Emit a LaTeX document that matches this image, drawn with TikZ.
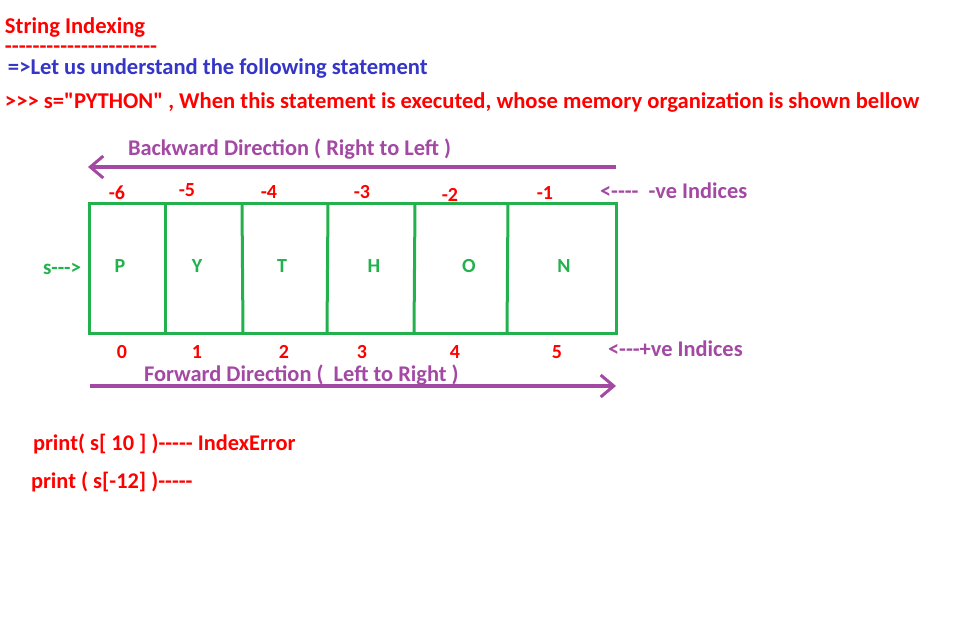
\documentclass[tikz,border=0pt]{standalone}
\usepackage{fontspec}
\setmainfont{Carlito}[Ligatures=TeXOff]
\usetikzlibrary{arrows.meta}
\definecolor{tred}{HTML}{FF0000}
\definecolor{tblue}{HTML}{3535C8}
\definecolor{tpurple}{HTML}{A349A4}
\definecolor{tgreen}{HTML}{22B14C}
\begin{document}
\begin{tikzpicture}[x=1pt,y=-1pt,
  every node/.style={inner sep=0pt,outer sep=0pt},
  big/.style={anchor=base west,font=\fontsize{22.6}{26}\selectfont\bfseries},
  mid/.style={anchor=base west,font=\fontsize{22.4}{26}\selectfont\bfseries},
  idx/.style={anchor=base,font=\fontsize{20}{24}\selectfont\bfseries,text=tred},
  letter/.style={anchor=base,font=\fontsize{20}{24}\selectfont\bfseries,text=tgreen},
  cellline/.style={draw=tgreen,line width=3pt},
  dirarrow/.style={draw=tpurple,line width=3.5pt,-{Straight Barb[length=13pt,width=22pt,line width=3pt]}}
]
\useasboundingbox[fill=white] (0,0) rectangle (957,620);

% headings
\node[big,text=tred] (title) at (5,34) {String Indexing};
\node[big,text=tred] (dashes) at (5,54) {----------------------};
\node[big,text=tblue] (line2) at (8,75) {=>Let us understand the following statement};
\node[big,text=tred] (line3) at (5,109) {>>> s="PYTHON" , When this statement is executed, whose memory organization is shown bellow};

% backward arrow
\coordinate (bR) at (616,167);
\coordinate (bL) at (88,167);
\draw[dirarrow] (bR) -- (bL);
\node[mid,text=tpurple] (blabel) at (128,156) {Backward Direction ( Right to Left )};

% negative indices
\node[idx] (n6) at (117,200) {-6};
\node[idx] (n5) at (187,197) {-5};
\node[idx] (n4) at (269,199) {-4};
\node[idx] (n3) at (362,199) {-3};
\node[idx] (n2) at (450,202) {-2};
\node[idx] (n1) at (545,200) {-1};
\node[mid,text=tpurple] (neg) at (600,199) {<----\ \ -ve Indices};

% memory cells
\draw[cellline] (89,204) rectangle (616,333);
\draw[cellline] (165,204) -- (165,333);
\draw[cellline] (242,204) -- (243,333);
\draw[cellline] (328,204) -- (327,333);
\draw[cellline] (415,204) -- (414,333);
\draw[cellline] (508,204) -- (507,333);

\node[letter] (P) at (120,272) {P};
\node[letter] (Y) at (197,272) {Y};
\node[letter] (T) at (282,272) {T};
\node[letter] (H) at (374,272) {H};
\node[letter] (O) at (469,272) {O};
\node[letter] (N) at (564,272) {N};
\node[anchor=base west,font=\fontsize{21}{24}\selectfont\bfseries,text=tgreen] (s) at (43,274) {s--->};

% positive indices
\node[idx] (p0) at (122,358) {0};
\node[idx] (p1) at (197,358) {1};
\node[idx] (p2) at (284,358) {2};
\node[idx] (p3) at (362,358) {3};
\node[idx] (p4) at (455,358) {4};
\node[idx] (p5) at (557,358) {5};
\node[mid,text=tpurple] (pos) at (608,356) {<---+ve Indices};

% forward arrow
\node[mid,text=tpurple] (flabel) at (144,381) {Forward Direction (\ \ Left to Right )};
\coordinate (fL) at (90,386);
\coordinate (fR) at (616,386);
\draw[dirarrow] (fL) -- (fR);

% print statements
\node[mid,text=tred] (pr1) at (33,450) {print( s[ 10 ] )----- IndexError};
\node[mid,text=tred] (pr2) at (31,488) {print ( s[-12] )-----};
\end{tikzpicture}
\end{document}
